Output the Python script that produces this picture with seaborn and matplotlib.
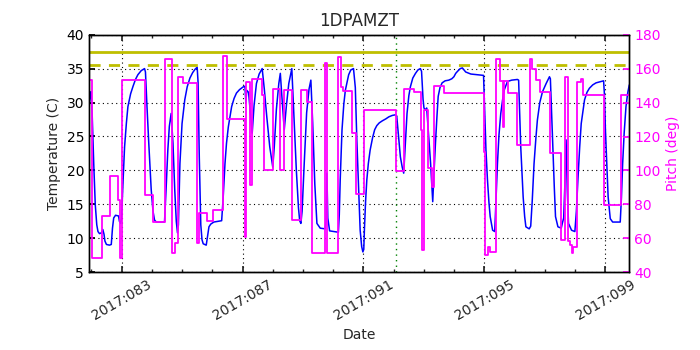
import numpy as np
import pandas as pd
import seaborn as sns
import matplotlib.pyplot as plt
from matplotlib.ticker import MultipleLocator, FixedLocator

# 1DPAMZT temperature (day of year 2017, deg C)
temp_day = [81.92, 81.96, 81.99, 82.03, 82.08, 82.13, 82.18, 82.22, 82.27, 82.33,
            82.38, 82.42, 82.45, 82.50, 82.60, 82.66, 82.70, 82.74, 82.80, 82.90,
            82.93, 82.97, 83.00, 83.05, 83.10, 83.16, 83.21, 83.30, 83.38, 83.46,
            83.54, 83.65, 83.76, 83.79, 83.84, 83.90, 83.98, 84.04, 84.09, 84.15,
            84.42, 84.47, 84.53, 84.58, 84.64, 84.70, 84.76, 84.81, 84.85, 84.88,
            84.93, 85.00, 85.09, 85.17, 85.26, 85.35, 85.43, 85.50, 85.53, 85.57,
            85.62, 85.66, 85.70, 85.80, 85.85, 85.89, 85.95, 86.05, 86.31, 86.36,
            86.42, 86.47, 86.53, 86.64, 86.72, 86.80, 86.90, 87.02, 87.08, 87.11,
            87.14, 87.20, 87.26, 87.32, 87.38, 87.46, 87.55, 87.65, 87.72, 87.80,
            87.90, 88.00, 88.05, 88.12, 88.20, 88.25, 88.30, 88.38, 88.45, 88.53,
            88.63, 88.70, 88.78, 88.85, 88.89, 88.93, 88.97, 89.04, 89.12, 89.20,
            89.26, 89.32, 89.39, 89.46, 89.57, 89.73, 89.76, 89.79, 89.82, 89.88,
            90.17, 90.20, 90.23, 90.29, 90.35, 90.40, 90.51, 90.58, 90.67, 90.73,
            90.78, 90.84, 90.89, 90.94, 90.98, 91.01, 91.03, 91.07, 91.11, 91.16,
            91.22, 91.30, 91.37, 91.44, 91.52, 91.62, 91.74, 91.84, 91.95, 92.06,
            92.10, 92.16, 92.22, 92.28, 92.33, 92.38, 92.44, 92.50, 92.55, 92.63,
            92.72, 92.80, 92.88, 92.92, 92.97, 93.00, 93.05, 93.09, 93.15, 93.22,
            93.29, 93.33, 93.38, 93.43, 93.47, 93.53, 93.60, 93.70, 93.82, 93.92,
            93.99, 94.05, 94.11, 94.20, 94.27, 94.38, 94.55, 94.77, 94.97, 95.01,
            95.05, 95.10, 95.15, 95.19, 95.27, 95.34, 95.38, 95.43, 95.48, 95.54,
            95.60, 95.65, 95.76, 95.90, 96.09, 96.13, 96.20, 96.28, 96.33, 96.37,
            96.48, 96.53, 96.58, 96.64, 96.70, 96.75, 96.83, 96.92, 97.04, 97.15,
            97.18, 97.22, 97.26, 97.31, 97.35, 97.43, 97.54, 97.58, 97.62, 97.66,
            97.70, 97.74, 97.78, 97.88, 97.99, 98.04, 98.09, 98.15, 98.20, 98.31,
            98.39, 98.47, 98.58, 98.69, 98.94, 98.97, 99.00, 99.05, 99.09, 99.16,
            99.24, 99.49, 99.53, 99.57, 99.62, 99.68, 99.74, 99.79]
temp_val = [29.5, 31.0, 31.6, 28.0, 21.0, 15.0, 12.0, 11.0, 10.7, 10.8,
            11.3, 10.6, 9.6, 9.1, 9.0, 9.1, 11.5, 13.0, 13.4, 13.3,
            12.5, 12.2, 13.0, 18.5, 23.5, 27.0, 29.4, 31.3, 32.4, 33.4,
            34.1, 34.7, 35.0, 34.5, 29.5, 24.0, 17.2, 14.0, 12.7, 12.4,
            12.4, 17.0, 23.0, 26.5, 28.4, 24.0, 17.0, 12.5, 10.8, 12.0,
            21.0, 26.9, 30.4, 32.3, 33.6, 34.4, 34.9, 35.2, 33.0, 22.0,
            12.0, 9.8, 9.2, 9.0, 10.5, 11.7, 12.1, 12.4, 12.6, 16.0,
            21.0, 24.0, 26.4, 29.4, 30.6, 31.4, 31.9, 32.3, 32.4, 30.0,
            31.8, 31.5, 28.5, 25.5, 29.5, 32.8, 34.2, 35.0, 32.0, 28.0,
            23.5, 20.5, 23.5, 29.0, 32.8, 34.3, 31.0, 26.0, 29.5, 32.8,
            35.0, 28.0, 20.0, 14.5, 12.6, 12.2, 14.0, 21.0, 28.5, 32.0,
            33.3, 27.0, 18.0, 12.2, 11.5, 11.4, 12.5, 19.6, 13.0, 11.1,
            10.9, 13.5, 18.6, 26.0, 29.8, 31.8, 34.1, 34.8, 35.0, 32.2,
            24.5, 17.0, 11.2, 8.8, 8.0, 8.4, 11.2, 15.5, 18.6, 21.0,
            23.0, 24.8, 26.0, 26.6, 27.0, 27.3, 27.6, 27.9, 28.1, 28.2,
            28.0, 25.0, 22.0, 20.5, 19.6, 23.5, 28.4, 31.0, 32.3, 33.6,
            34.3, 34.8, 35.0, 34.6, 30.5, 29.2, 28.9, 29.2, 25.5, 21.0,
            15.4, 19.5, 24.0, 28.0, 30.9, 32.2, 32.9, 33.2, 33.3, 33.5,
            33.8, 34.3, 34.6, 35.0, 35.1, 34.5, 34.2, 34.1, 34.0, 28.4,
            23.0, 18.6, 15.2, 13.2, 11.2, 11.0, 15.5, 21.0, 25.2, 28.4,
            30.4, 31.8, 33.1, 33.3, 33.4, 33.3, 23.5, 16.1, 13.2, 11.7,
            11.4, 11.8, 15.5, 21.0, 24.7, 27.4, 30.0, 31.6, 32.8, 33.8,
            33.5, 28.5, 23.5, 17.5, 13.2, 11.7, 11.5, 12.3, 13.0, 18.0,
            24.5, 17.0, 12.2, 11.2, 11.0, 14.0, 18.6, 23.5, 26.9, 30.4,
            31.5, 32.1, 32.6, 32.9, 33.2, 31.0, 26.0, 20.5, 16.1, 12.9,
            12.4, 12.4, 16.0, 21.0, 25.5, 29.4, 31.5, 32.6]

# pitch angle, held until the next change (deg)
pitch_day = [81.92, 82.03, 82.36, 82.63, 82.88, 82.95, 83.01, 83.79, 84.04, 84.42,
             84.68, 84.76, 84.86, 85.04, 85.51, 85.56, 85.84, 86.01, 86.34, 86.50,
             87.08, 87.11, 87.26, 87.30, 87.63, 87.71, 88.00, 88.25, 88.36, 88.63,
             88.93, 89.13, 89.29, 89.73, 89.81, 90.17, 90.25, 90.31, 90.62, 90.75,
             91.03, 92.09, 92.33, 92.66, 92.90, 92.94, 92.99, 93.14, 93.27, 93.32,
             93.66, 94.97, 95.01, 95.13, 95.19, 95.37, 95.52, 95.62, 95.65, 95.79,
             96.09, 96.51, 96.58, 96.70, 96.84, 97.17, 97.54, 97.67, 97.76, 97.83,
             97.88, 97.92, 98.05, 98.18, 98.27, 98.94, 99.51, 99.79]
pitch_val = [153.3, 48.2, 73.0, 96.6, 82.5, 48.7, 153.3, 85.5, 69.5, 165.7,
             51.6, 57.0, 155.3, 151.8, 57.0, 74.8, 70.3, 76.8, 167.5, 130.1,
             60.6, 152.3, 91.4, 153.7, 144.5, 100.3, 147.8, 100.3, 147.4, 71.1,
             147.4, 140.5, 51.2, 163.1, 51.2, 167.0, 149.4, 146.8, 121.9, 85.9,
             135.6, 99.5, 148.0, 146.4, 123.8, 53.1, 135.6, 101.7, 90.4, 149.7,
             145.4, 110.7, 50.2, 54.7, 52.2, 165.5, 152.8, 125.8, 152.8, 145.4,
             115.0, 165.5, 159.6, 153.3, 146.4, 110.5, 59.3, 155.3, 58.3, 56.3,
             51.6, 55.0, 152.3, 153.7, 144.5, 79.6, 144.5, 144.5]

planning_limit = 35.5
yellow_limit = 37.5
now_day = 92.06
tick_days = [83, 87, 91, 95, 99]
tick_labels = ["2017:083", "2017:087", "2017:091", "2017:095", "2017:099"]

sns.set_theme(style="white")
plt.rcParams["font.family"] = ["DejaVu Sans"]
plt.rcParams.update({
    "xtick.direction": "in", "ytick.direction": "in",
    "xtick.top": True, "xtick.bottom": True,
    "xtick.major.size": 4, "xtick.minor.size": 2, "ytick.major.size": 4,
    "axes.edgecolor": "black", "axes.linewidth": 1.0,
    "xtick.labelsize": 10, "ytick.labelsize": 10,
})

fig, ax = plt.subplots(figsize=(7, 3.5), dpi=100)
fig.subplots_adjust(left=0.127, right=0.899, top=0.901, bottom=0.222)

temp = pd.DataFrame({"day": temp_day, "temp": temp_val})
pitch = pd.DataFrame({"day": pitch_day, "pitch": pitch_val})

sns.lineplot(data=temp, x="day", y="temp", ax=ax, color="#0000ff", lw=1.1,
             estimator=None, sort=False)
ax.axhline(yellow_limit, color="#bfbf00", lw=2)
ax.axhline(planning_limit, color="#bfbf00", lw=2, ls=(0, (4, 3)))
ax.axvline(now_day, color="green", lw=1, ls=(0, (1, 3)))

ax.set_xlim(81.92, 99.79)
ax.set_ylim(5, 40)
ax.xaxis.set_major_locator(FixedLocator(tick_days))
ax.set_xticklabels(tick_labels, rotation=30, ha="center")
ax.xaxis.set_minor_locator(MultipleLocator(1))
ax.yaxis.set_major_locator(MultipleLocator(5))
ax.tick_params(axis="y", left=True, right=False, colors="black")
ax.grid(True, which="major", color="black", lw=0.8, ls=(0, (1, 3)))
ax.set_xlabel("Date", fontsize=10)
ax.set_ylabel("Temperature (C)", fontsize=10)
ax.set_title("1DPAMZT", fontsize=12)

ax2 = ax.twinx()
sns.lineplot(data=pitch, x="day", y="pitch", ax=ax2, color="#ff00ff", lw=1.3,
             estimator=None, sort=False, drawstyle="steps-post")
ax2.set_ylim(40, 180)
ax2.yaxis.set_major_locator(MultipleLocator(20))
ax2.tick_params(axis="y", direction="in", right=True, colors="#ff00ff",
                labelcolor="#ff00ff", length=4)
ax2.set_ylabel("Pitch (deg)", color="#ff00ff", fontsize=10)
ax2.grid(False)
for s in ax2.spines.values():
    s.set_color("black")

fig.savefig("out.png", dpi=100)
